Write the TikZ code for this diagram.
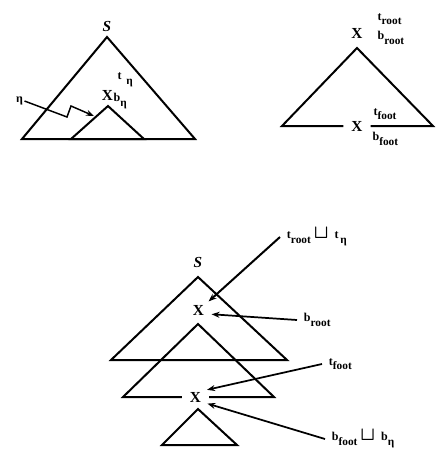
\documentclass[tikz,border=0pt]{standalone}
\usepackage{fontspec}
\setmainfont{Liberation Serif}
\usetikzlibrary{arrows.meta}
\tikzset{
	>={Stealth[length=6pt, width=4.5pt]},
	% lati degli alberi (triangoli)
	albero/.style={line width=1.5pt, line join=miter},
	% categoria (S, X)
	cat/.style={font=\fontsize{11.5}{13}\selectfont\bfseries, inner sep=0pt},
	% X con spazio attorno (radice/piede)
	nodox/.style={cat, circle, minimum size=20pt},
	% etichetta dei tratti
	tratto/.style={font=\fontsize{9}{11}\selectfont\bfseries, inner sep=1pt, anchor=west},
	% etichetta con freccia
	nota/.style={tratto, inner xsep=5pt},
	% freccia
	freccia/.style={->, line width=1.3pt},
}
\newcommand{\pedice}[1]{\raisebox{-0.8ex}{\fontsize{8.5}{10}\selectfont #1}}
\newcommand{\unione}{{\fontsize{14}{14}\selectfont$\boldsymbol{\sqcup}$}}
\usepackage{amsmath,amssymb}

\begin{document}
\begin{tikzpicture}[x=0.75pt, y=-0.75pt]
    \useasboundingbox (0,0) rectangle (441,465);

    % albero iniziale
    \node[cat, font=\fontsize{11.5}{13}\selectfont\bfseries\itshape] (s1) at (107,26) {S};
    \draw[albero] (107,37) -- (22,139) -- (195,139) -- cycle;
    \draw[albero] (108,106) -- (71,139) -- (144,139) -- cycle;
    \node[cat] (x1) at (107.5,95.5) {X};
    \node[tratto] (x1t) at (116,80) {t\,\pedice{ η}};
    \node[tratto] (x1b) at (112,101) {b\pedice{η}};
    \node[tratto, anchor=center] (eta) at (19.5,101) {η};
    \coordinate (bersaglio) at (94,116);
    \draw[freccia, line width=1.1pt] (eta.east) -- (67,117) -- (71,106) -- (bersaglio);

    % albero ausiliario
    \node[cat] (xr) at (357,33) {X};
    \node[tratto] (troot) at (376,19) {t\pedice{root}};
    \node[tratto] (broot) at (376,38) {b\pedice{root}};
    \node[nodox] (xf) at (357,126) {X};
    \draw[albero] (xf.west) -- (282,126) -- (357,48) -- (433,126) -- (xf.east);
    \node[tratto] (tfoot) at (372,114) {t\pedice{foot}};
    \node[tratto] (bfoot) at (371,139) {b\pedice{foot}};

    % risultato dell'aggiunzione
    \node[cat, font=\fontsize{11.5}{13}\selectfont\bfseries\itshape] (s2) at (198,262.5) {S};
    \draw[albero] (198,277) -- (111,360) -- (287,360) -- cycle;
    \node[nodox] (x2) at (198.5,310.5) {X};
    \node[nodox] (x3) at (195.5,397) {X};
    \draw[albero] (x3.west) -- (123,397) -- (198,324) -- (274,397) -- (x3.east);
    \draw[albero] (198,409) -- (162,445) -- (237,445) -- cycle;

    % tratti unificati
    \node[nota] (n1) at (280,237) {t\pedice{root}\ \unione\ \ t\pedice{\,η}};
    \draw[freccia, line width=1.5pt] (n1.west) -- (x2.42);
    \node[nota] (n2) at (297,320) {b\pedice{root}};
    \draw[freccia] (n2.west) -- (x2.-16);
    \node[nota] (n3) at (322,364) {t\pedice{foot}};
    \draw[freccia] (n3.west) -- (x3.32);
    \node[nota] (n4) at (325,439) {b\pedice{foot}\ \unione\ \ b\pedice{η}};
    \draw[freccia] (n4.west) -- (x3.-29);
\end{tikzpicture}
\end{document}
